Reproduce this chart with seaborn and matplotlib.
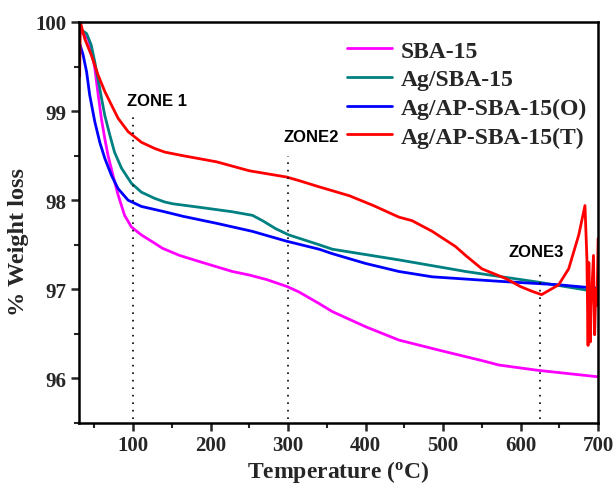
import numpy as np
import pandas as pd
import matplotlib
matplotlib.use("Agg")
import matplotlib.pyplot as plt
import seaborn as sns
from matplotlib.ticker import MultipleLocator

# ---------------- data ----------------
series_names = ["SBA-15", "Ag/SBA-15", "Ag/AP-SBA-15(O)", "Ag/AP-SBA-15(T)"]
series_colors = ["#ff00ff", "#008080", "#0000ff", "#ff0000"]

sba_T = [31, 35.5, 42, 46, 50.6, 55, 59, 63.5, 67.7, 74, 80.6, 89, 97.8, 110.7,
         123.6, 138, 160, 186, 228, 250, 272, 299, 314, 340, 357, 400, 443, 498,
         550, 572, 623, 698, 700]
sba_W = [99.89, 99.87, 99.81, 99.70, 99.48, 99.18, 98.92, 98.69, 98.50, 98.28,
         98.06, 97.83, 97.70, 97.61, 97.54, 97.46, 97.38, 97.31, 97.20, 97.16,
         97.11, 97.03, 96.97, 96.84, 96.75, 96.58, 96.43, 96.31, 96.20, 96.15,
         96.09, 96.02, 96.02]

ag_T = [31, 33.4, 40, 46, 50.6, 57, 63.5, 70, 76, 85, 97.8, 110.7, 128, 140.7,
        151, 186, 228, 254, 267, 284, 301, 340, 357, 443, 529, 623, 700]
ag_W = [99.88, 99.91, 99.87, 99.74, 99.55, 99.25, 98.95, 98.73, 98.54, 98.36,
        98.19, 98.09, 98.02, 97.98, 97.96, 97.92, 97.87, 97.83, 97.77, 97.68,
        97.61, 97.50, 97.45, 97.33, 97.20, 97.08, 96.97]

agO_T = [31, 35.5, 40, 44, 50.6, 57, 63.5, 72, 80.6, 93.5, 110.7, 140.7, 164,
         208, 254, 298, 340, 357, 400, 443, 486, 572, 650, 700]
agO_W = [99.76, 99.63, 99.44, 99.18, 98.88, 98.65, 98.47, 98.28, 98.13, 98.00,
         97.93, 97.87, 97.82, 97.74, 97.65, 97.54, 97.45, 97.40, 97.29, 97.20,
         97.14, 97.09, 97.05, 97.01]

agT_T = [31, 32, 34, 37.7, 46, 55, 63.5, 72, 80.6, 93.5, 110.7, 128, 140.7, 164,
         208, 250, 298, 314, 340, 379, 410, 443, 460, 486, 516, 529, 550, 581,
         600, 614, 627, 649, 662, 675, 683, 685.5, 687, 688, 690, 691, 694,
         695.5, 697, 698.5, 700]
agT_W = [99.39, 100.0, 99.93, 99.81, 99.63, 99.40, 99.22, 99.07, 98.92, 98.77,
         98.65, 98.58, 98.54, 98.50, 98.43, 98.33, 98.26, 98.22, 98.15, 98.05,
         97.94, 97.81, 97.77, 97.65, 97.48, 97.38, 97.23, 97.12, 97.03, 96.98,
         96.94, 97.05, 97.23, 97.61, 97.94, 97.35, 96.37, 97.30, 96.41, 96.82,
         97.38, 96.49, 97.00, 96.82, 97.57]

zone_x = [100, 300, 625]
zone_top = [98.95, 98.50, 97.20]
zone_labels = ["ZONE 1", "ZONE2", "ZONE3"]
zone_label_x = [92, 294, 584]
zone_label_y = [99.12, 98.72, 97.42]

x_ticks = [100, 200, 300, 400, 500, 600, 700]
y_ticks = [96, 97, 98, 99, 100]

# ---------------- frame ----------------
frames = []
for name, T, W in zip(series_names, [sba_T, ag_T, agO_T, agT_T],
                      [sba_W, ag_W, agO_W, agT_W]):
    frames.append(pd.DataFrame({"T": T, "W": W, "series": name}))
df = pd.concat(frames, ignore_index=True)

# ---------------- style ----------------
sns.set_style("ticks")
plt.rcParams["font.family"] = ["Liberation Serif", "DejaVu Serif"]
plt.rcParams["font.weight"] = "bold"
plt.rcParams["mathtext.fontset"] = "custom"
plt.rcParams["mathtext.rm"] = "Liberation Serif:bold"
plt.rcParams["mathtext.bf"] = "Liberation Serif:bold"
plt.rcParams["mathtext.it"] = "Liberation Serif:bold"

fig = plt.figure(figsize=(6.16, 4.89), dpi=100)
ax = fig.add_axes([0.128, 0.133, 0.843, 0.820])

sns.lineplot(data=df, x="T", y="W", hue="series", hue_order=series_names,
             palette=series_colors, estimator=None, sort=True, linewidth=2.0,
             ax=ax)

for zx, zt in zip(zone_x, zone_top):
    ax.plot([zx, zx], [95.55, zt], color="black", linestyle=(0, (1, 3.5)),
            linewidth=1.2)
for lx, ly, lab in zip(zone_label_x, zone_label_y, zone_labels):
    ax.text(lx, ly, lab, family="Liberation Sans", fontweight="bold",
            fontsize=12, ha="left", va="center", color="black")

ax.set_xlim(30, 700)
ax.set_ylim(95.5, 100)
ax.set_xticks(x_ticks)
ax.set_yticks(y_ticks)
ax.xaxis.set_minor_locator(MultipleLocator(50))
ax.yaxis.set_minor_locator(MultipleLocator(0.5))
ax.tick_params(axis="both", which="major", direction="out", length=6,
               width=1.8, labelsize=15, pad=3)
ax.tick_params(axis="both", which="minor", direction="out", length=3.5,
               width=1.5)

for s in ax.spines.values():
    s.set_visible(True)
    s.set_linewidth(1.8)
    s.set_color("black")

ax.set_xlabel(r"Temperature ($\mathregular{^{o}}$C)", fontsize=17,
              fontweight="bold", labelpad=2)
ax.set_ylabel("% Weight loss", fontsize=17.5, fontweight="bold")
ax.yaxis.set_label_coords(-0.096, 0.455)

leg = ax.legend(loc="upper left", bbox_to_anchor=(0.49, 0.99), frameon=False,
                prop={"family": "Liberation Serif", "weight": "bold", "size": 17},
                handlelength=1.9, handletextpad=0.35, labelspacing=0.3,
                borderaxespad=0.2)
for h in leg.get_lines():
    h.set_linewidth(2.0)

fig.canvas.draw()
for lbl in ax.get_xticklabels() + ax.get_yticklabels():
    lbl.set_fontweight("bold")
    lbl.set_family("Liberation Serif")
    lbl.set_fontsize(15)

fig.savefig("out.png", dpi=100)
